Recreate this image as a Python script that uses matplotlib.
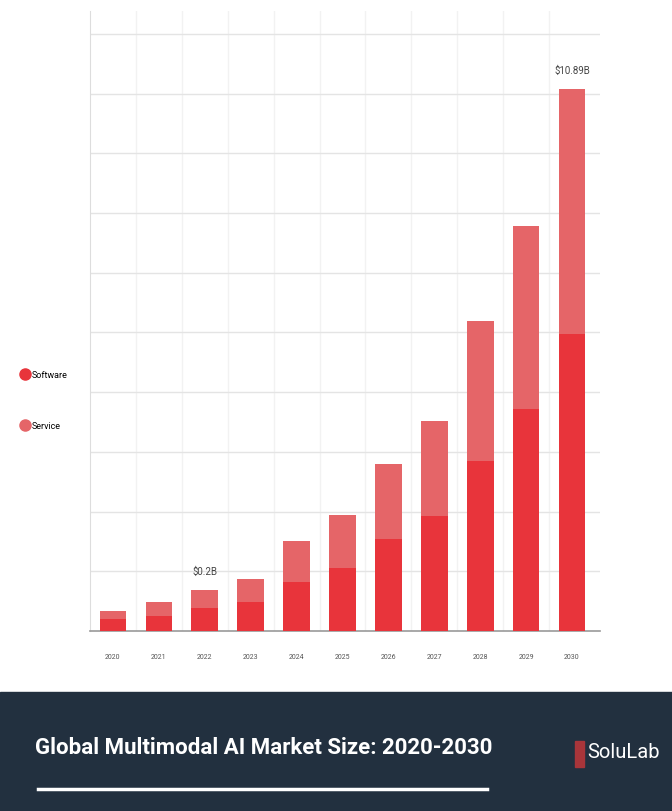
import numpy as np
import matplotlib.pyplot as plt
from matplotlib.lines import Line2D
from matplotlib.patches import Rectangle

# market size, billions USD
years = ["2020", "2021", "2022", "2023", "2024", "2025",
         "2026", "2027", "2028", "2029", "2030"]
software = [0.24, 0.31, 0.46, 0.58, 0.99, 1.26, 1.85, 2.32, 3.42, 4.46, 5.97]
service = [0.17, 0.28, 0.36, 0.46, 0.82, 1.07, 1.51, 1.90, 2.80, 3.68, 4.92]
bar_labels = {2: "$0.2B", 10: "$10.89B"}

c_soft = "#E8343B"
c_serv = "#E56568"
navy = "#22303F"
font = ["Roboto", "DejaVu Sans"]

fig = plt.figure(figsize=(6.72, 8.12), dpi=100)
ax = fig.add_axes([90 / 672, 180 / 812, 510 / 672, 620 / 812])

x = np.arange(len(years))
ax.bar(x, software, width=0.58, color=c_soft, zorder=3)
ax.bar(x, service, width=0.58, bottom=software, color=c_serv, zorder=3)

totals = np.array(software) + np.array(service)
for i, txt in bar_labels.items():
    ax.text(x[i], totals[i] + 0.28, txt, ha="center", va="bottom",
            fontsize=7, color="#444444", family=font)

ax.set_xlim(-0.5, 10.61)
ax.set_ylim(0, 12.46)
ax.set_yticks(np.arange(1.2, 12.1, 1.2))
ax.set_xticks(x)
ax.set_xticklabels(years, fontsize=5, color="#555555", family=font)
ax.tick_params(axis="x", length=0, pad=16)
ax.tick_params(axis="y", length=0, labelleft=False)
ax.set_xticks(x[:-1] + 0.5, minor=True)
ax.tick_params(axis="x", which="minor", length=0)
ax.grid(axis="y", color="#E4E4E4", linewidth=1, zorder=0)
ax.grid(axis="x", which="minor", color="#F2F2F2", linewidth=1, zorder=0)
ax.grid(axis="x", which="major", visible=False)
for s in ["top", "right"]:
    ax.spines[s].set_visible(False)
ax.spines["left"].set_color("#DDDDDD")
ax.spines["bottom"].set_color("#999999")
ax.spines["bottom"].set_linewidth(1.2)

handles = [Line2D([], [], marker="o", linestyle="", color=c_soft, markersize=8),
           Line2D([], [], marker="o", linestyle="", color=c_serv, markersize=8)]
fig.legend(handles, ["Software", "Service"], loc="center left",
           bbox_to_anchor=(0.018, 1 - 401 / 812), frameon=False,
           labelspacing=4.6, handletextpad=0.3, handlelength=1,
           prop={"family": font, "size": 6.5})

# bottom banner
fig.patches.append(Rectangle((0, 0), 1, 119 / 812, transform=fig.transFigure,
                             color=navy, zorder=0))
fig.text(35 / 672, 1 - 748 / 812, "Global Multimodal AI Market Size: 2020-2030",
         color="white", fontsize=16, fontweight="bold", family=font,
         va="center", ha="left")
fig.add_artist(Line2D([38 / 672, 487 / 672], [1 - 790 / 812] * 2,
                      color="white", linewidth=2.5, transform=fig.transFigure))
fig.patches.append(Rectangle((575 / 672, 1 - 768 / 812), 9 / 672, 26 / 812,
                             transform=fig.transFigure, color="#A8353A", zorder=1))
fig.text(587 / 672, 1 - 753 / 812, "SoluLab", color="white", fontsize=14.5,
         family=font, va="center", ha="left")

fig.savefig("out.png", dpi=100)
